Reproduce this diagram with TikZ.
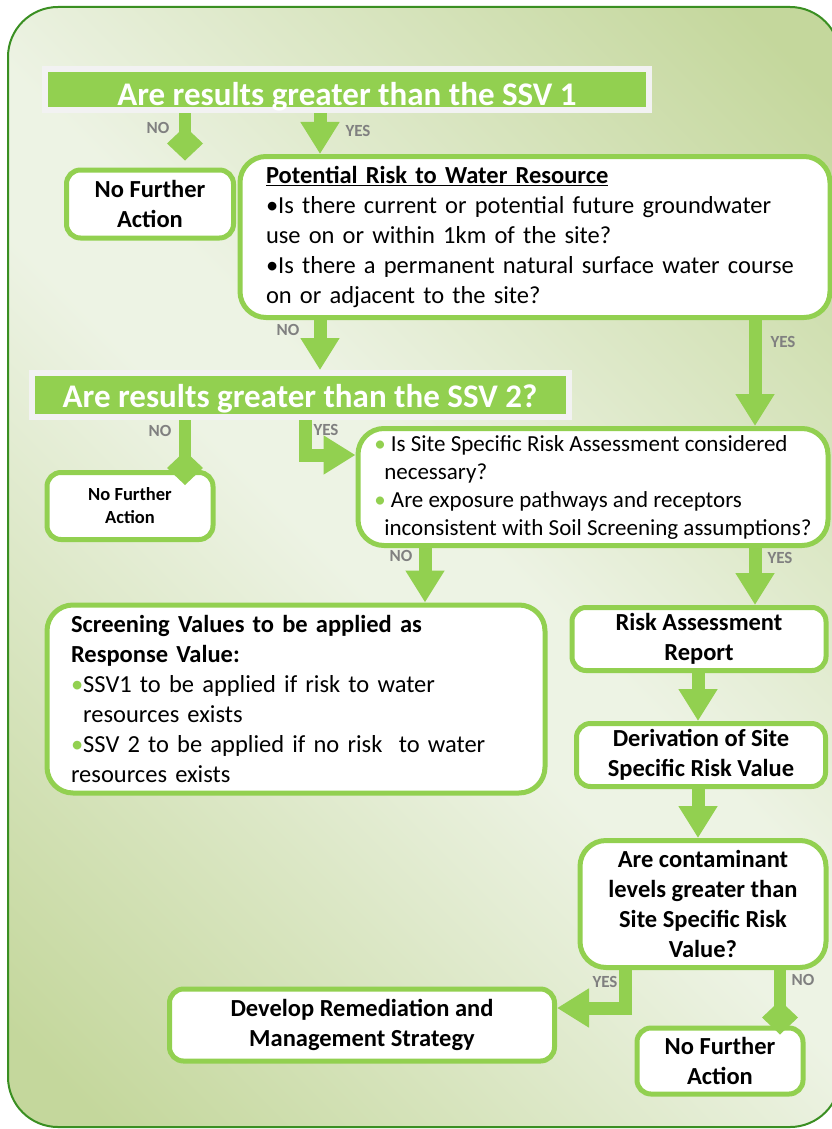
\documentclass[tikz,border=0pt]{standalone}
\usepackage{fontspec}
\setmainfont{Carlito}
\usetikzlibrary{arrows.meta,shadows}

\definecolor{leafgreen}{HTML}{92D050}
\definecolor{framegreen}{HTML}{3A8F22}
\definecolor{labelgray}{HTML}{808080}
\definecolor{bgdark}{HTML}{C4D79C}
\definecolor{bglight}{HTML}{EDF3E4}
\definecolor{rimgray}{HTML}{F2F2F2}
\pgfdeclarehorizontalshading{panelshade}{100bp}{color(0bp)=(bgdark); color(18bp)=(bgdark); color(47bp)=(bglight); color(53bp)=(bglight); color(82bp)=(bgdark); color(100bp)=(bgdark)}

\newcommand{\gdot}{{\color{leafgreen}•}}

\begin{document}
\begin{tikzpicture}[x=1pt, y=-1pt,
    box/.style={draw=leafgreen, line width=5pt, fill=white, rounded corners=14pt, inner sep=0pt},
    bigbox/.style={box, rounded corners=26pt},
    titlebar/.style={fill=leafgreen, draw=rimgray, line width=6pt, inner sep=0pt, text=white,
        font=\bfseries\fontsize{33}{33}\selectfont, text depth=0pt,
        drop shadow={shadow xshift=2pt, shadow yshift=-3pt, fill=black!40, opacity=1}},
    bodytext/.style={font=\fontsize{24.5}{30}\selectfont},
    headtext/.style={font=\bfseries\fontsize{24.5}{30}\selectfont, align=center},
    tag/.style={text=labelgray, font=\bfseries\fontsize{17}{17}\selectfont, inner sep=0pt},
    yesarrow/.style={leafgreen, line width=13pt, -{Triangle[width=37pt,length=32pt]}},
    noarrow/.style={leafgreen, line width=12pt, -{Diamond[width=36pt,length=34pt]}}
]
    \useasboundingbox (0,0) rectangle (832,1129);

    % Panel
    \shade[shading=panelshade, shading angle=45, draw=framegreen, line width=2pt, rounded corners=50pt]
        (8,7) rectangle (840,1127);

    % Questions
    \node[titlebar, minimum width=604pt, minimum height=41pt, text height=32pt] (title1) at (347,90)
        {Are results greater than the SSV 1};
    \node[titlebar, minimum width=537pt, minimum height=44pt, text height=24pt] (title2) at (300,395)
        {Are results greater than the SSV 2?};

    % Boxes
    \node[box, headtext, minimum width=167pt, minimum height=68pt] (nfa1) at (150,204)
        {No Further\\Action};
    \node[bigbox, bodytext, minimum width=590pt, minimum height=161pt, text width=538pt, align=left] (risk) at (535,237)
        {\underline{\textbf{Potential Risk to Water Resource}}\\
         •Is there current or potential future groundwater\\
         use on or within 1km of the site?\\
         •Is there a permanent natural surface water course\\
         on or adjacent to the site?};
    \node[box, minimum width=166pt, minimum height=67pt, align=center,
          font=\bfseries\fontsize{18.5}{23}\selectfont] (nfa2) at (130,506)
        {No Further\\Action};
    \node[bigbox, minimum width=470pt, minimum height=117pt, align=left,
          font=\fontsize{23}{28}\selectfont] (ssra) at (593,487)
        {\gdot\ Is Site Specific Risk Assessment considered\\
         \hspace*{10pt}necessary?\\
         \gdot\ Are exposure pathways and receptors\\
         \hspace*{10pt}inconsistent with Soil Screening assumptions?};
    \node[bigbox, bodytext, minimum width=498pt, minimum height=188pt, text width=450pt, align=left] (screen) at (296,699)
        {\textbf{Screening Values to be applied as}\\
         \textbf{Response Value:}\\
         \gdot SSV1 to be applied if risk to water\\
         \phantom{•}resources exists\\
         \gdot SSV 2 to be applied if no risk\ \ to water\\
         resources exists};
    \node[box, headtext, minimum width=254pt, minimum height=63pt] (rar) at (699,639)
        {Risk Assessment\\Report};
    \node[box, headtext, minimum width=249pt, minimum height=63pt] (deriv) at (701,755)
        {Derivation of Site\\Specific Risk Value};
    \node[bigbox, headtext, minimum width=246pt, minimum height=127pt] (cont) at (703,904)
        {Are contaminant\\levels greater than\\Site Specific Risk\\Value?};
    \node[box, headtext, minimum width=385pt, minimum height=72pt] (dev) at (362,1025)
        {Develop Remediation and\\Management Strategy};
    \node[box, headtext, minimum width=166pt, minimum height=66pt] (nfa3) at (720,1061)
        {No Further\\Action};

    % Connectors
    %% yes
    \foreach \from/\to/\x in {title1/risk/320, risk/title2/320, risk/ssra/755, ssra/screen/425, ssra/rar/755}
        \draw[yesarrow] (\from.south -| \x,0) -- (\to.north -| \x,0);
    \draw[yesarrow] (rar.south -| 698,0) -- (deriv.north -| 698,0);
    \draw[yesarrow] (deriv.south -| 698,0) -- (cont.north -| 698,0);
    \draw[yesarrow] (title2.south -| 305,0) |- (ssra.west |- 0,455);
    \draw[yesarrow] (cont.south -| 625,0) |- (dev.east |- 0,1008);
    %% no
    \draw[noarrow, shorten >=7pt] (title1.south -| 185,0) -- (nfa1.north -| 185,0);
    \draw[noarrow, shorten >=-15pt] (title2.south -| 185,0) -- (nfa2.north -| 185,0);
    \draw[noarrow, shorten >=-9pt] (cont.south -| 780,0) -- (nfa3.north -| 780,0);

    % Labels
    \node[tag] (no1) at (158,128) {NO};
    \node[tag] (yes1) at (358,131) {YES};
    \node[tag] (no2) at (288,330) {NO};
    \node[tag] (yes2) at (783,342) {YES};
    \node[tag] (no3) at (160,431) {NO};
    \node[tag] (yes3) at (326,430) {YES};
    \node[tag] (no4) at (401,556) {NO};
    \node[tag] (yes4) at (780,558) {YES};
    \node[tag] (yes5) at (605,982) {YES};
    \node[tag] (no5) at (803,980) {NO};
\end{tikzpicture}
\end{document}
